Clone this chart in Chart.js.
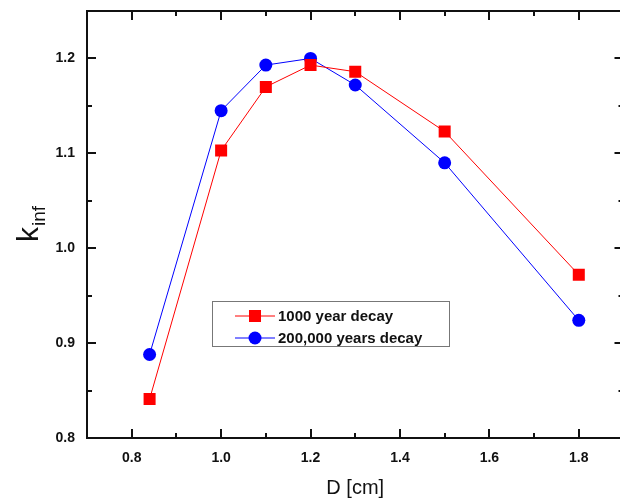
<!DOCTYPE html>
<html>
<head>
<meta charset="utf-8">
<script src="https://cdn.jsdelivr.net/npm/chart.js@4/dist/chart.umd.min.js"></script>
<style>
  html, body { margin: 0; padding: 0; background: #fff; overflow: hidden; }
  canvas { display: block; }
</style>
</head>
<body>
<canvas id="chart" width="632" height="504"></canvas>
<script>
// D [cm] values
const diameters = [0.84, 1.0, 1.1, 1.2, 1.3, 1.5, 1.8];
// k_inf after 1000 years of decay
const k1000 = [0.841, 1.103, 1.170, 1.193, 1.186, 1.123, 0.972];
// k_inf after 200,000 years of decay
const k200k = [0.888, 1.145, 1.193, 1.200, 1.172, 1.090, 0.924];

const seriesNames = ["1000 year decay", "200,000 years decay"];
const xTicks = [0.8, 1.0, 1.2, 1.4, 1.6, 1.8];
const yTicks = [0.8, 0.9, 1.0, 1.1, 1.2];

const FONT = "Liberation Sans, Arial, sans-serif";

// frame, inward ticks on all four sides, legend box, y title
const framePlugin = {
  id: "frame",
  afterDraw(chart) {
    const ctx = chart.ctx;
    const a = chart.chartArea;
    const xs = chart.scales.x, ys = chart.scales.y;
    ctx.save();
    ctx.strokeStyle = "#111";
    ctx.lineWidth = 2;
    ctx.strokeRect(a.left, a.top, a.right - a.left, a.bottom - a.top);

    ctx.beginPath();
    for (let v = 0.7; v <= 1.9001; v += 0.1) {
      const major = xTicks.some(t => Math.abs(t - v) < 1e-6);
      const len = major ? 9 : 5;
      const px = Math.round(xs.getPixelForValue(v));
      ctx.moveTo(px, a.bottom); ctx.lineTo(px, a.bottom - len);
      ctx.moveTo(px, a.top); ctx.lineTo(px, a.top + len);
    }
    for (let v = 0.8; v <= 1.25001; v += 0.05) {
      const major = yTicks.some(t => Math.abs(t - v) < 1e-6);
      const len = major ? 9 : 5;
      const py = Math.round(ys.getPixelForValue(v));
      ctx.moveTo(a.left, py); ctx.lineTo(a.left + len, py);
      ctx.moveTo(a.right, py); ctx.lineTo(a.right - len, py);
    }
    ctx.stroke();

    // legend box
    const lx = 212, ly = 301, lw = 237, lh = 45;
    ctx.fillStyle = "#fff";
    ctx.fillRect(lx, ly, lw, lh);
    ctx.strokeStyle = "#777";
    ctx.lineWidth = 1;
    ctx.strokeRect(lx + 0.5, ly + 0.5, lw, lh);
    const colors = ["#ff0000", "#0000ff"];
    ctx.font = "bold 15px " + FONT;
    ctx.textBaseline = "middle";
    for (let i = 0; i < 2; i++) {
      const cy = ly + 15 + i * 22;
      ctx.strokeStyle = colors[i];
      ctx.lineWidth = 1;
      ctx.beginPath();
      ctx.moveTo(lx + 23, cy); ctx.lineTo(lx + 63, cy);
      ctx.stroke();
      ctx.fillStyle = colors[i];
      if (i === 0) {
        ctx.fillRect(lx + 37, cy - 6, 12, 12);
      } else {
        ctx.beginPath();
        ctx.arc(lx + 43, cy, 6.5, 0, Math.PI * 2);
        ctx.fill();
      }
      ctx.fillStyle = "#111";
      ctx.textAlign = "left";
      ctx.fillText(seriesNames[i], lx + 66, cy + 1);
    }

    // y title k_inf
    ctx.save();
    ctx.translate(30, a.top + (a.bottom - a.top) / 2);
    ctx.rotate(-Math.PI / 2);
    ctx.fillStyle = "#111";
    ctx.textBaseline = "alphabetic";
    ctx.textAlign = "left";
    ctx.font = "30px " + FONT;
    const kw = ctx.measureText("k").width;
    ctx.font = "19px " + FONT;
    const iw = ctx.measureText("inf").width;
    const start = -(kw + iw) / 2;
    ctx.font = "30px " + FONT;
    ctx.fillText("k", start, 8);
    ctx.font = "19px " + FONT;
    ctx.fillText("inf", start + kw + 1, 15);
    ctx.restore();

    ctx.restore();
  }
};

new Chart("chart", {
  type: "line",
  data: {
    datasets: [
      {
        label: seriesNames[0],
        data: diameters.map((d, i) => ({ x: d, y: k1000[i] })),
        borderColor: "#ff0000",
        backgroundColor: "#ff0000",
        borderWidth: 1,
        pointStyle: "rect",
        pointRadius: 8.5,
        pointBorderWidth: 0,
        tension: 0,
      },
      {
        label: seriesNames[1],
        data: diameters.map((d, i) => ({ x: d, y: k200k[i] })),
        borderColor: "#0000ff",
        backgroundColor: "#0000ff",
        borderWidth: 1,
        pointStyle: "circle",
        pointRadius: 6.5,
        pointBorderWidth: 0,
        tension: 0,
      },
    ],
  },
  options: {
    responsive: false,
    animation: false,
    layout: { padding: { top: 11, right: 2, left: 0, bottom: 0 } },
    plugins: {
      legend: { display: false },
      tooltip: { enabled: false },
    },
    scales: {
      x: {
        type: "linear",
        min: 0.7,
        max: 1.9,
        afterFit: (s) => { s.height = 66; s.paddingLeft = 0; s.paddingRight = 0; },
        afterBuildTicks: (s) => { s.ticks = xTicks.map(v => ({ value: v })); },
        grid: { display: false, drawTicks: false },
        border: { display: false },
        ticks: {
          padding: 12,
          color: "#111",
          font: { family: FONT, size: 14, weight: "bold" },
          callback: (v) => v.toFixed(1),
        },
        title: {
          display: true,
          text: "D [cm]",
          color: "#111",
          font: { family: FONT, size: 20 },
          padding: { top: 4 },
        },
      },
      y: {
        type: "linear",
        min: 0.8,
        max: 1.25,
        afterFit: (s) => { s.width = 87; s.paddingTop = 0; s.paddingBottom = 0; },
        afterBuildTicks: (s) => { s.ticks = yTicks.map(v => ({ value: v })); },
        grid: { display: false, drawTicks: false },
        border: { display: false },
        ticks: {
          padding: 12,
          color: "#111",
          font: { family: FONT, size: 14, weight: "bold" },
          callback: (v) => v.toFixed(1),
        },
      },
    },
  },
  plugins: [framePlugin],
});
</script>
</body>
</html>
